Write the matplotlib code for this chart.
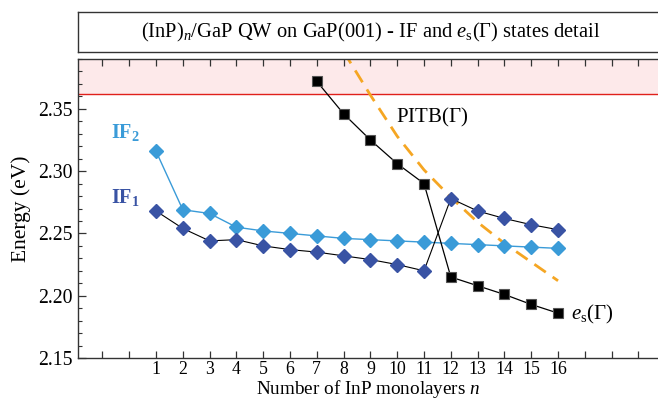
import matplotlib

matplotlib.use("Agg")
import matplotlib.pyplot as plt
from matplotlib.ticker import MultipleLocator, FixedLocator, FixedFormatter

# data
n_if = list(range(1, 17))
if1_energy = [2.268, 2.254, 2.244, 2.245, 2.240, 2.237, 2.235, 2.232, 2.229, 2.225,
              2.220, 2.278, 2.268, 2.262, 2.257, 2.253]
if2_energy = [2.316, 2.269, 2.266, 2.255, 2.252, 2.250, 2.248, 2.246, 2.245, 2.244,
              2.243, 2.242, 2.241, 2.240, 2.239, 2.238]
n_es = list(range(7, 17))
es_energy = [2.372, 2.346, 2.325, 2.306, 2.290, 2.215, 2.208, 2.201, 2.193, 2.186]
n_pitb = list(range(8, 17))
pitb_energy = [2.396, 2.361, 2.328, 2.301, 2.279, 2.259, 2.242, 2.227, 2.212]
barrier_edge = 2.362
tick_labels = [str(n) for n in range(1, 17)]

DARK_BLUE = "#3953A4"
LIGHT_BLUE = "#3A9BD8"
ORANGE = "#F5A623"
SPINE = "#333333"

plt.rcParams.update(
    {
        "font.family": ["Liberation Serif", "DejaVu Serif"],
        "mathtext.fontset": "custom",
        "mathtext.rm": "Liberation Serif",
        "mathtext.it": "Liberation Serif:italic",
        "mathtext.bf": "Liberation Serif:bold",
        "font.size": 12,
    }
)

fig = plt.figure(figsize=(6.58, 4.03), dpi=100)

# title box, open on the right like the reference
tax = fig.add_axes([78 / 658, 351 / 403, 0.89, 40 / 403])
tax.set_xticks([])
tax.set_yticks([])
tax.spines["right"].set_visible(False)
for s in tax.spines.values():
    s.set_color(SPINE)
    s.set_linewidth(1.0)
fig.text(
    371 / 658,
    371 / 403,
    r"(InP)$_n$/GaP QW on GaP(001) - IF and $e_\mathrm{s}$($\Gamma$) states detail",
    ha="center",
    va="center",
    fontsize=14.8,
)

ax = fig.add_axes([78 / 658, 45 / 403, 580 / 658, 299 / 403])
ax.set_xlim(-1.91, 19.73)
ax.set_ylim(2.15, 2.39)

ax.axhspan(barrier_edge, 2.39, color="#FDE9EA", zorder=0, lw=0)
ax.axhline(barrier_edge, color="#E0201B", lw=1.0, zorder=1)

ax.plot(n_pitb, pitb_energy, color=ORANGE, lw=2.0, dashes=(5, 3), zorder=2)
ax.plot(n_if, if2_energy, color=LIGHT_BLUE, lw=1.0, marker="D", ms=7.2,
        mfc=LIGHT_BLUE, mec=LIGHT_BLUE, zorder=3)
ax.plot(n_if, if1_energy, color="black", lw=0.8, marker="D", ms=7.2,
        mfc=DARK_BLUE, mec=DARK_BLUE, zorder=4)
ax.plot(n_es, es_energy, color="black", lw=0.9, marker="s", ms=7.8,
        mfc="black", mec="#555555", mew=0.8, zorder=5)

ax.text(-0.15, 2.331, r"IF$_\mathbf{2}$", color=LIGHT_BLUE, fontweight="bold",
        fontsize=14.5, ha="center", va="center")
ax.text(-0.15, 2.279, r"IF$_\mathbf{1}$", color=DARK_BLUE, fontweight="bold",
        fontsize=14.5, ha="center", va="center")
ax.text(11.3, 2.343, r"PITB($\Gamma$)", fontsize=15, ha="center", va="center")
ax.text(16.5, 2.185, r"$e_\mathrm{s}$($\Gamma$)", fontsize=15, ha="left", va="center")

ax.xaxis.set_major_locator(FixedLocator(list(range(-1, 20))))
ax.xaxis.set_major_formatter(
    FixedFormatter(["", ""] + tick_labels + [""] * 3)
)
ax.yaxis.set_major_locator(MultipleLocator(0.05))
ax.yaxis.set_minor_locator(MultipleLocator(0.01))
ax.yaxis.set_major_formatter(matplotlib.ticker.FormatStrFormatter("%.2f"))
ax.tick_params(axis="both", which="both", direction="in", colors=SPINE,
               labelcolor="black")
ax.tick_params(axis="x", which="major", top=True, length=5, width=0.9, pad=2.5,
               labelsize=12.8)
ax.tick_params(axis="y", which="major", length=6, width=0.9, labelsize=14.2, pad=4)
ax.tick_params(axis="y", which="minor", length=3, width=0.8)
ax.spines["right"].set_visible(False)
for s in ("left", "bottom", "top"):
    ax.spines[s].set_color(SPINE)
    ax.spines[s].set_linewidth(1.0)

ax.set_xlabel(r"Number of InP monolayers $n$", fontsize=13.8, labelpad=0)
ax.set_ylabel("Energy (eV)", fontsize=15.5, labelpad=5)

fig.savefig("out.png", dpi=100, facecolor="white")
